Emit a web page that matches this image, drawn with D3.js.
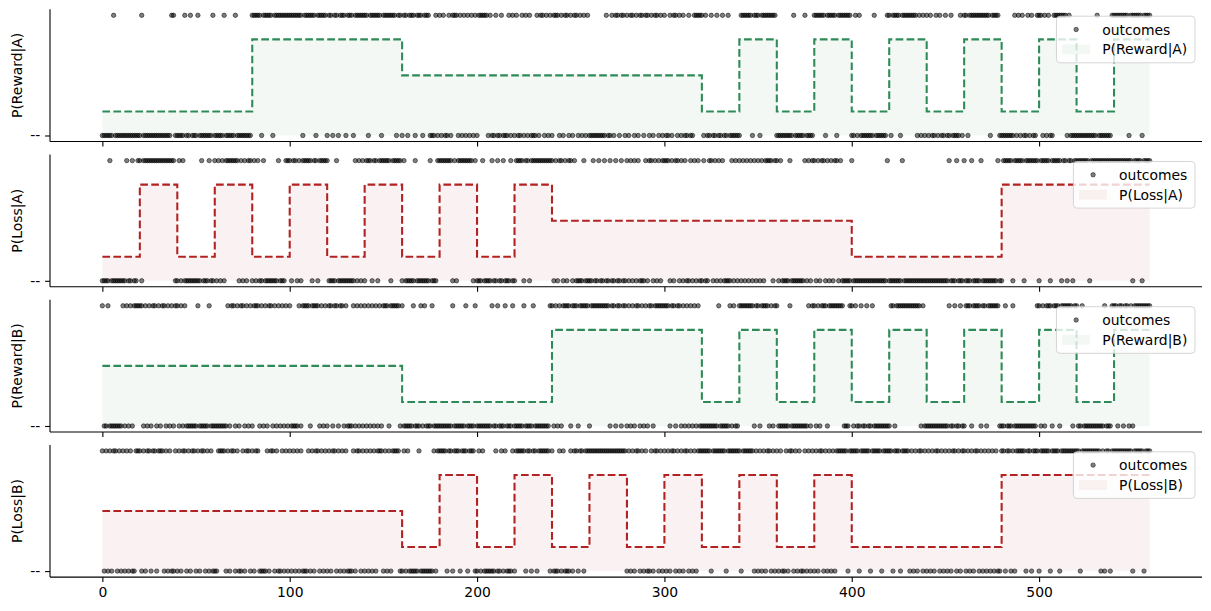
<!DOCTYPE html>
<html><head><meta charset="utf-8">
<script src="https://cdn.jsdelivr.net/npm/d3@7"></script>
<style>body{margin:0;background:#fff} text{font-family:"DejaVu Sans",sans-serif}</style>
</head><body><svg id="c" width="1211" height="611"></svg>
<script>
// ---------- data ----------
const nTrials = 560;
const blockSize = 20;
const xTicks = [0, 100, 200, 300, 400, 500];
const panelLabels = ["P(Reward|A)", "P(Loss|A)", "P(Reward|B)", "P(Loss|B)"];
const panelColors = ["#2e8b57", "#b22222", "#2e8b57", "#b22222"];
const yTickLabel = "--";

// outcome probability per 20-trial block
const probRewardA = [0.2,0.2,0.2,0.2, 0.8,0.8,0.8,0.8, 0.5,0.5,0.5,0.5,0.5,0.5,0.5,0.5, 0.2,0.8,0.2,0.8,0.2,0.8,0.2,0.8,0.2,0.8,0.2,0.8];
const probLossA   = [0.2,0.8,0.2,0.8,0.2,0.8,0.2,0.8,0.2,0.8,0.2,0.8, 0.5,0.5,0.5,0.5,0.5,0.5,0.5,0.5, 0.2,0.2,0.2,0.2, 0.8,0.8,0.8,0.8];
const probRewardB = [0.5,0.5,0.5,0.5,0.5,0.5,0.5,0.5, 0.2,0.2,0.2,0.2, 0.8,0.8,0.8,0.8, 0.2,0.8,0.2,0.8,0.2,0.8,0.2,0.8,0.2,0.8,0.2,0.8];
const probLossB   = [0.5,0.5,0.5,0.5,0.5,0.5,0.5,0.5, 0.2,0.8,0.2,0.8,0.2,0.8,0.2,0.8,0.2,0.8,0.2,0.8, 0.2,0.2,0.2,0.2, 0.8,0.8,0.8,0.8];

// binary outcomes per trial (1 = outcome occurred), 20 trials per string
const outcomesRewardA = [
"00000010000000000000","01000000000000000110","00001001000100000001","00000100000100000000",
"11111011111011111111","11111110111111011111","01101101110111011111","11011111101111111011",
"01101110111011100010","10100101110101010101","01111101001001000101","01001010100010110101",
"01110101101011010101","00000000010010110110","10110101101101011010","10010110101001001111",
"10100100100100100000","01111110111011111111","00000000010000010000","11111101111101111111",
"00101000000010000001","10111101111111101010","10100101001001000010","11011111111111011110",
"00000001010100101001","11010100111111101000","00000000000100000001","11111111011111101111"];
const outcomesLossA = [
"00001000000001001001","10111111111111111110","01010000000001000100","10101011111110101011",
"01010010000000100011","10110101111101101111","10000100000000010101","01110110111111011111",
"01000001000000010001","11111110101111111101","00010000100100100010","01111011011111111111",
"10101101011010000100","00100100100100100100","10101010001011010101","11101011010100101010",
"01001101010100001010","10101010101010111101","10100001000000010101","10101101010110100000",
"10000000000000000001","00000001000000000000","00000000000010001000","10001000010000000010",
"01111101111101111111","01111101111101101101","11111110111111111111","11111111110111101111"];
const outcomesRewardB = [
"10010000000101010111","11010101101011010101","10101000000100000100","00000001011010110101",
"01110101011010101010","10000101111011110101","01101101101000101010","10101010101110111110",
"10000010001010001000","00000001000000100001","00000000100100010001","00000100001000000001",
"10101011110111011111","01111111111011011011","01010110101011011111","11101101101010101010",
"00000000010000010100","11111111011011110101","10000001000000000101","10101110111111110001",
"10100100100100000000","01101111111111111010","00000000000010010010","01110111101101111110",
"00100010000000000001","10101110111011111101","10010000000000010001","11011011010111111111"];
const outcomesLossB = [
"10101011010101010011","10101101101110101001","01011010110101101010","00111101011010010110",
"10110000101101001010","10101010001010110101","01011010101000101101","01010101110101011110",
"01010000010000000101","11110110111011101110","01010000001001010001","01111101101101111110",
"10001010001011011011","11111111111111111111","01010110101001011010","10101101010110101011",
"11111011111110111111","10111111010101011010","10100101101010010101","01011010101011111101",
"11110111110111110111","11011101111010101101","01010110101010110101","10101011010101010100",
"11011010111110110111","01111101111011111111","11011111111110101101","11111111110111110111"];

const probs = [probRewardA, probLossA, probRewardB, probLossB];
const outcomes = [outcomesRewardA, outcomesLossA, outcomesRewardB, outcomesLossB];

// ---------- layout ----------
const svg = d3.select("#c");
const left = 50, right = 1202;
const panelTops = [9.3, 154.6, 299.8, 444.9];
const panelH = 132.2;

const x = d3.scaleLinear().domain([-27.95, 586.95]).range([left, right]);

function trialSeries(blocks) {
  const arr = [];
  for (let t = 0; t < nTrials; t++) arr.push({t, p: blocks[Math.floor(t / blockSize)]});
  return arr;
}
function outcomeSeries(strs) {
  const arr = [];
  strs.forEach((s, b) => {
    const str = (s + "00000000000000000000").slice(0, blockSize);
    for (let i = 0; i < blockSize; i++) arr.push({t: b * blockSize + i, v: +str[i]});
  });
  return arr.slice(0, nTrials);
}

panelLabels.forEach((label, k) => {
  const top = panelTops[k], bottom = top + panelH;
  const y = d3.scaleLinear().domain([-0.05, 1.05]).range([bottom, top]);
  const g = svg.append("g");
  const color = panelColors[k];
  const series = trialSeries(probs[k]);
  const outs = outcomeSeries(outcomes[k]);

  // filled area
  g.append("path").datum(series)
    .attr("d", d3.area().curve(d3.curveStepAfter).x(d => x(d.t)).y0(y(0)).y1(d => y(d.p)))
    .attr("fill", color).attr("fill-opacity", 0.06);

  // outcome dots
  g.append("g").selectAll("circle").data(outs).join("circle")
    .attr("cx", d => x(d.t)).attr("cy", d => y(d.v)).attr("r", 2.2)
    .attr("fill", "#000").attr("fill-opacity", 0.5)
    .attr("stroke", "#000").attr("stroke-opacity", 0.5).attr("stroke-width", 1);

  // step line
  g.append("path").datum(series)
    .attr("d", d3.line().curve(d3.curveStepAfter).x(d => x(d.t)).y(d => y(d.p)))
    .attr("fill", "none").attr("stroke", color).attr("stroke-width", 2.08)
    .attr("stroke-dasharray", "7.7,3.3");

  // axes
  const xAxis = d3.axisBottom(x).tickValues(xTicks).tickSize(4.9).tickPadding(4.9)
    .tickFormat(k === 3 ? d3.format("d") : () => "");
  const xa = g.append("g").attr("transform", `translate(0,${bottom})`).call(xAxis);
  xa.select(".domain").attr("d", `M${left},0H${right}`).attr("stroke", "#000").attr("stroke-width", 1.1);
  xa.selectAll(".tick line").attr("stroke", "#000").attr("stroke-width", 1.1);
  xa.selectAll(".tick text").attr("font-size", "13.9px").attr("fill", "#000").attr("font-family", "DejaVu Sans");

  const yAxis = d3.axisLeft(y).tickValues([0]).tickSize(4.9).tickPadding(4.9).tickFormat(() => yTickLabel);
  const ya = g.append("g").attr("transform", `translate(${left},0)`).call(yAxis);
  ya.select(".domain").attr("d", `M0,${top}V${bottom}`).attr("stroke", "#000").attr("stroke-width", 1.1);
  ya.selectAll(".tick line").attr("stroke", "#000").attr("stroke-width", 1.1);
  ya.selectAll(".tick text").attr("font-size", "13.9px").attr("fill", "#000").attr("font-family", "DejaVu Sans");

  // y label
  g.append("text").attr("transform", `translate(22,${(top + bottom) / 2}) rotate(-90)`)
    .attr("text-anchor", "middle").attr("font-size", "13.9px").attr("fill", "#000").text(label);

  // legend
  const lg = g.append("g");
  const t1 = lg.append("text").attr("font-size", "13.9px").text("outcomes");
  const t2 = lg.append("text").attr("font-size", "13.9px").text(label);
  const tw = Math.max(t1.node().getComputedTextLength(), t2.node().getComputedTextLength());
  const boxR = right - 7, boxW = 45.7 + tw + 7.7, boxL = boxR - boxW;
  const boxT = top + 6.9, boxH = 46.6;
  lg.insert("rect", "text").attr("x", boxL).attr("y", boxT).attr("width", boxW).attr("height", boxH)
    .attr("rx", 3.5).attr("fill", "#fff").attr("fill-opacity", 0.8)
    .attr("stroke", "#cccccc").attr("stroke-opacity", 0.8).attr("stroke-width", 1);
  lg.insert("circle", "text").attr("cx", boxL + 19.7).attr("cy", boxT + 13.3).attr("r", 2.2)
    .attr("fill", "#000").attr("fill-opacity", 0.5).attr("stroke", "#000").attr("stroke-opacity", 0.5);
  lg.insert("rect", "text").attr("x", boxL + 5.7).attr("y", boxT + 28.3).attr("width", 27.8).attr("height", 9.7)
    .attr("fill", color).attr("fill-opacity", 0.06);
  t1.attr("x", boxL + 45.7).attr("y", boxT + 18.3);
  t2.attr("x", boxL + 45.7).attr("y", boxT + 38.2);
});
</script></body></html>
